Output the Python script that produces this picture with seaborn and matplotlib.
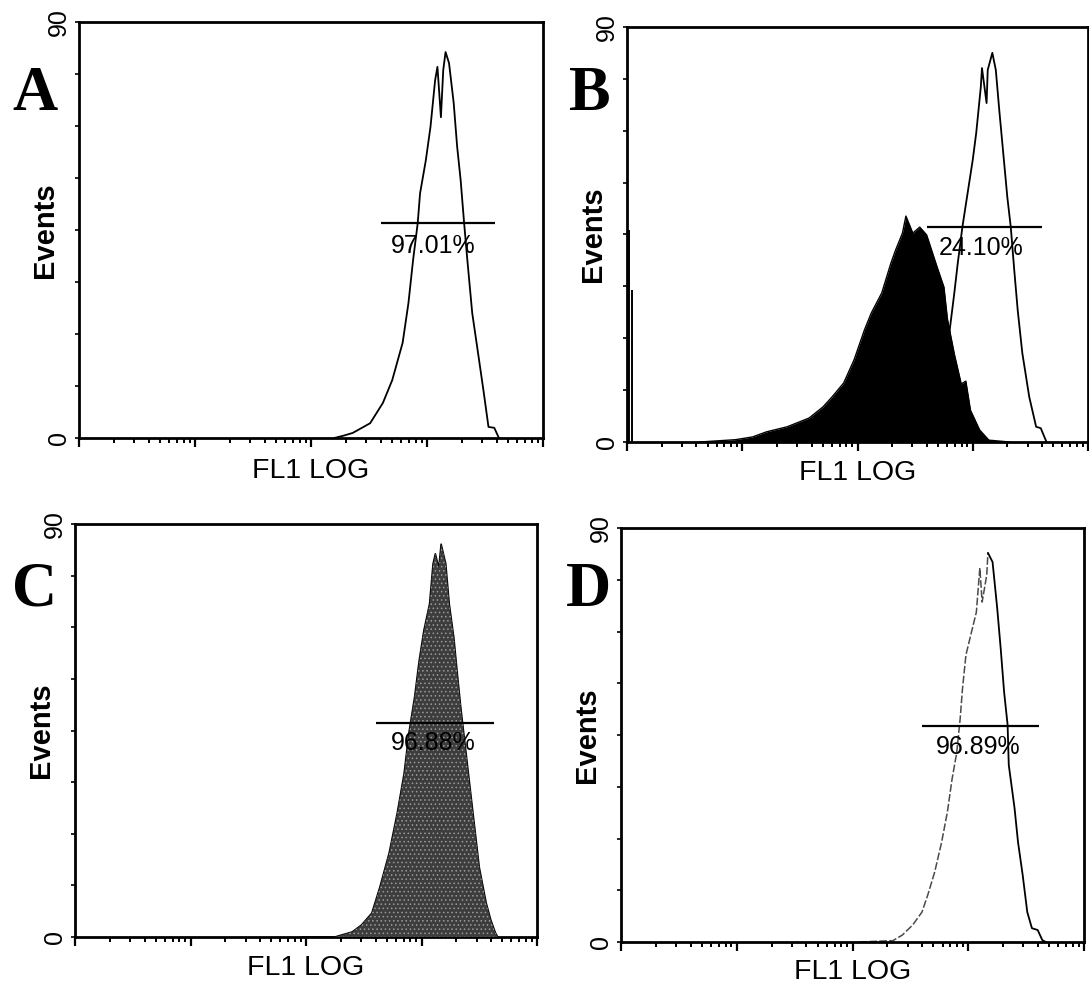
import numpy as np
import pandas as pd
import matplotlib
matplotlib.use("Agg")
import matplotlib.pyplot as plt
import seaborn as sns

# ---------------- data (log10 of FL1 intensity, event counts) ----------------
a_log = [2.20, 2.28, 2.36, 2.51, 2.62, 2.70, 2.79, 2.84, 2.88, 2.92, 2.94, 2.99, 3.03, 3.07,
         3.09, 3.12, 3.14, 3.16, 3.19, 3.23, 3.26, 3.29, 3.32, 3.35, 3.39, 3.44, 3.49, 3.53,
         3.58, 3.62]
a_counts = [0, 0.5, 1.1, 3.2, 7.6, 12.5, 20.6, 29.2, 38.5, 46.5, 52.9, 60.1, 67.3, 77.4,
            80.3, 69.4, 79.6, 83.5, 81.1, 72.5, 63.0, 55.8, 46.5, 37.9, 27.0, 18.4, 9.7, 2.4,
            2.2, 0]

b_open_log = [2.62, 2.69, 2.75, 2.80, 2.84, 2.87, 2.91, 2.95, 3.00, 3.03, 3.07, 3.08, 3.12,
              3.13, 3.17, 3.20, 3.23, 3.27, 3.30, 3.33, 3.36, 3.39, 3.43, 3.49, 3.55, 3.59, 3.64]
b_open_counts = [0.5, 4.6, 13.4, 24.3, 32.3, 38.8, 46.6, 53.1, 61.2, 67.0, 77.0, 81.1, 73.5,
                 80.7, 84.4, 80.7, 72.0, 61.2, 53.1, 46.6, 37.3, 28.6, 19.3, 9.8, 3.3, 3.0, 0]

b_fill_log = [0.63, 0.94, 1.09, 1.21, 1.39, 1.58, 1.70, 1.78, 1.88, 1.97, 2.06, 2.12, 2.21,
              2.29, 2.33, 2.39, 2.42, 2.48, 2.54, 2.60, 2.69, 2.75, 2.78, 2.84, 2.90, 2.94,
              2.98, 3.06, 3.14, 3.23, 3.32]
b_fill_counts = [0, 0.5, 1.1, 2.2, 3.3, 5.2, 7.6, 9.8, 12.8, 17.8, 24.3, 28.0, 32.3,
                 38.8, 41.6, 45.3, 49.0, 45.3, 46.6, 44.9, 38.0, 33.6, 26.7, 19.1, 12.6, 13.2,
                 6.9, 2.6, 0.4, 0.2, 0]

b_spike_log = [0.02, 0.045]
b_spike_counts = [46, 33]

c_log = [1.96, 2.25, 2.40, 2.48, 2.57, 2.64, 2.72, 2.79, 2.85, 2.89, 2.94, 2.98, 3.02, 3.07,
         3.10, 3.12, 3.15, 3.17, 3.21, 3.24, 3.28, 3.31, 3.34, 3.38, 3.42, 3.46, 3.50, 3.56,
         3.60, 3.64, 3.66]
c_counts = [0, 0, 1.1, 2.6, 5.2, 10.9, 18.3, 27.0, 35.7, 44.3, 52.2, 60.2, 66.7, 72.6,
            81.3, 83.5, 80.4, 85.6, 81.3, 72.6, 65.2, 57.4, 50.0, 41.3, 32.6, 23.9, 15.2, 7.4,
            3.7, 0.9, 0]

d_log = [2.06, 2.35, 2.43, 2.52, 2.60, 2.65, 2.71, 2.77, 2.82, 2.86, 2.90, 2.93, 2.95, 2.98,
         3.03, 3.07, 3.10, 3.12, 3.16, 3.17, 3.21, 3.25, 3.28, 3.31, 3.34, 3.35, 3.40, 3.43,
         3.47, 3.51, 3.55, 3.60, 3.64, 3.67]
d_counts = [0, 0.3, 1.5, 3.7, 6.5, 10.2, 15.2, 21.7, 28.3, 35.4, 41.1, 48.5, 55.0, 62.4,
            67.6, 71.7, 81.3, 73.9, 79.8, 84.6, 82.6, 72.6, 63.9, 54.3, 47.2, 38.5, 29.1, 21.7,
            14.6, 6.5, 3.0, 2.6, 0.4, 0]

panel_letters = ["A", "B", "C", "D"]
gate_start_log = [2.60, 2.60, 2.61, 2.60]
gate_end_log = [3.59, 3.60, 3.63, 3.61]
gate_counts = [46.5, 46.6, 46.7, 47.0]
gate_labels = ["97.01%", "24.10%", "96.88%", "96.89%"]
gate_label_log = [3.05, 3.07, 3.10, 3.09]
gate_label_counts = [41.6, 42.0, 42.2, 42.4]
y_ticks = [0, 11.25, 22.5, 33.75, 45, 56.25, 67.5, 78.75, 90]
y_tick_labels = ["0", "", "", "", "", "", "", "", "90"]
x_label = "FL1 LOG"
y_label = "Events"

# ---------------- style ----------------
sns.set_theme(style="ticks")
plt.rcParams["font.family"] = ["Liberation Sans", "DejaVu Sans"]
plt.rcParams["hatch.linewidth"] = 0.6
plt.rcParams["text.color"] = "black"
plt.rcParams["axes.labelcolor"] = "black"
plt.rcParams["xtick.color"] = "black"
plt.rcParams["ytick.color"] = "black"
plt.rcParams["axes.edgecolor"] = "black"

W, H = 1089, 986
fig = plt.figure(figsize=(W / 100, H / 100), dpi=100)
fig.patch.set_facecolor("white")

# axes boxes in pixels: left, top, right, bottom
boxes = [(79, 22, 543, 438), (627, 27, 1088, 442), (75, 524, 537, 937), (621, 528, 1084, 942)]
letter_pos = [(35, 95), (590, 95), (35, 591), (588, 591)]
xlabel_offset = [33, 31, 31, 30]

axes = []
for (l, t, r, b) in boxes:
    ax = fig.add_axes([l / W, 1 - b / H, (r - l) / W, (b - t) / H])
    axes.append(ax)


def style_axis(ax, idx):
    ax.set_xscale("log")
    ax.set_xlim(1, 10 ** 4)
    ax.set_ylim(0, 90)
    for s in ax.spines.values():
        s.set_visible(True)
        s.set_color("black")
        s.set_linewidth(2.0)
    ax.set_facecolor("white")
    ax.tick_params(axis="x", which="major", direction="out", length=6.5, width=1.6,
                   labelbottom=False, bottom=True, color="black")
    ax.tick_params(axis="x", which="minor", direction="out", length=3.5, width=1.4,
                   bottom=True, color="black")
    ax.xaxis.set_major_locator(matplotlib.ticker.LogLocator(base=10, numticks=10))
    ax.xaxis.set_minor_locator(matplotlib.ticker.LogLocator(base=10, subs=np.arange(2, 10), numticks=50))
    ax.set_yticks(y_ticks)
    ax.set_yticklabels(y_tick_labels, rotation=90, va="center", fontsize=18, color="black")
    ax.tick_params(axis="y", which="major", direction="out", length=3, width=1.2,
                   pad=2.5, left=True, color="black")
    ax.set_xlabel("")
    ax.set_ylabel("")
    bw = boxes[idx][2] - boxes[idx][0]
    bh = boxes[idx][3] - boxes[idx][1]
    ax.text(0.5, -xlabel_offset[idx] / bh, x_label, transform=ax.transAxes, ha="center",
            va="center", fontsize=20.5, color="black")
    ax.text(-34 / bw, 0.5, y_label, transform=ax.transAxes, ha="center", va="center",
            rotation=90, fontsize=21, fontweight="bold", color="black")
    # gate marker
    ax.hlines(gate_counts[idx], 10 ** gate_start_log[idx], 10 ** gate_end_log[idx],
              color="black", linewidth=1.6, zorder=6)
    ax.text(10 ** gate_label_log[idx], gate_label_counts[idx], gate_labels[idx],
            ha="center", va="center", fontsize=18, color="black", zorder=7)
    lx, ly = letter_pos[idx]
    fig.text(lx / W, 1 - ly / H, panel_letters[idx], ha="center", va="center",
             fontsize=45, fontweight="bold", color="black",
             family=["Liberation Serif", "DejaVu Serif"])


def frame(logs, counts):
    return pd.DataFrame({"fl1": np.power(10.0, logs), "events": counts})


# Panel A: open histogram
ax = axes[0]
dfa = frame(a_log, a_counts)
sns.lineplot(data=dfa, x="fl1", y="events", ax=ax, color="black", linewidth=1.3,
             sort=False, estimator=None)
style_axis(ax, 0)

# Panel B: filled control + open stained
ax = axes[1]
dfo = frame(b_open_log, b_open_counts)
dff = frame(b_fill_log, b_fill_counts)
sns.lineplot(data=dfo, x="fl1", y="events", ax=ax, color="black", linewidth=1.3,
             sort=False, estimator=None)
ax.fill_between(dff["fl1"], 0, dff["events"], color="black", linewidth=0, zorder=3)
sns.lineplot(data=dff, x="fl1", y="events", ax=ax, color="black", linewidth=1.0,
             sort=False, estimator=None)
ax.vlines(np.power(10.0, b_spike_log), 0, b_spike_counts, color="black", linewidth=1.4)
style_axis(ax, 1)

# Panel C: gray filled histogram
ax = axes[2]
dfc = frame(c_log, c_counts)
ax.fill_between(dfc["fl1"], 0, dfc["events"], facecolor="#3d3d3d", edgecolor="#9a9a9a",
                hatch="....", linewidth=0, zorder=3)
sns.lineplot(data=dfc, x="fl1", y="events", ax=ax, color="black", linewidth=1.2,
             sort=False, estimator=None)
style_axis(ax, 2)

# Panel D: open histogram, rising side drawn lighter/dashed
ax = axes[3]
peak = int(np.argmax(d_counts))
dfd_left = frame(d_log[:peak + 1], d_counts[:peak + 1])
dfd_right = frame(d_log[peak:], d_counts[peak:])
sns.lineplot(data=dfd_left, x="fl1", y="events", ax=ax, color="#4a4a4a", linewidth=1.1,
             sort=False, estimator=None, linestyle=(0, (5, 1.5)))
sns.lineplot(data=dfd_right, x="fl1", y="events", ax=ax, color="black", linewidth=1.3,
             sort=False, estimator=None)
style_axis(ax, 3)

fig.savefig("out.png", dpi=100, facecolor="white")
